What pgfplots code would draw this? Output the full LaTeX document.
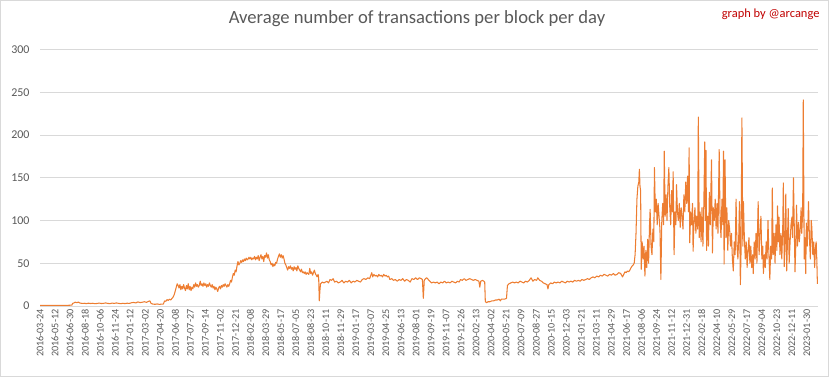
\documentclass[border=0pt]{standalone}
\usepackage{pgfplots}
\pgfplotsset{compat=1.18}
\usepackage{pgfplotstable}
\usepackage{fontspec}
\setmainfont{Carlito}
\definecolor{lineorange}{HTML}{ED7D31}
\definecolor{gridgray}{HTML}{D9D9D9}
\definecolor{tickgray}{HTML}{595959}
\definecolor{signred}{HTML}{C00000}

\pgfplotstableread{
x y
0 0.8
30 0.8
60 0.8
90 0.8
104 1.0
106 3.0
110 3.5
115 4.5
120 3.8
125 4.6
130 3.5
137 3.0
144 3.2
151 2.8
158 3.3
165 2.9
172 3.2
179 2.7
186 3.0
193 3.4
200 2.9
207 3.1
214 3.6
221 3.0
228 2.8
235 3.4
242 3.0
249 3.6
256 3.1
263 2.7
270 3.2
277 2.8
284 3.3
291 3.0
298 3.8
305 4.2
312 3.6
319 4.8
326 4.0
333 4.4
340 5.0
347 4.3
354 5.5
358 6.0
362 3.0
368 2.2
375 2.0
382 2.4
389 1.9
396 2.2
402 2.3
406 6.0
410 5.5
414 7.5
418 6.5
422 8.0
426 7.0
430 9.0
434 10.5
438 14
441 18
444 22
447 26
450 24
453 21
456 25
459 19
462 23
465 20
468 25
471 21
474 18
477 24
480 20
483 26
486 19
489 23
492 18
495 22
498 20
501 25
504 22
507 27
510 23
513 25
516 22
519 24
522 29
525 24
528 26
531 23
534 27
537 24
540 26
543 22
546 25
549 23
552 27
555 24
558 22
561 25
564 21
567 23
570 19
573 22
576 20
579 17
582 21
585 23
588 20
591 24
594 22
597 25
600 23
603 26
606 24
609 22
612 25
615 23
618 26
621 30
624 28
627 34
630 38
633 36
636 42
639 40
642 47
645 52
648 48
651 50
654 53
657 51
660 54
663 52
666 55
669 53
672 56
675 54
678 55
681 57
684 55
687 57
690 54
693 56
696 55
699 58
702 54
705 57
708 55
711 59
714 53
717 57
720 60
723 55
726 58
729 52
732 59
735 57
738 62
741 56
744 60
747 54
750 52
753 48
756 50
759 46
762 49
765 47
768 51
771 50
774 55
777 58
780 61
783 57
786 60
789 56
792 59
795 55
798 50
801 48
804 45
807 42
810 46
813 44
816 47
819 43
822 45
825 41
828 46
831 43
834 45
837 41
840 47
843 44
846 42
849 40
852 43
855 39
858 40
861 38
864 40
867 37
870 39
873 38
876 37
879 44
882 38
885 40
888 36
891 39
894 42
897 38
900 36
903 34
906 37
908 33
910 6
912 18
914 26
917 27
920 28
925 27
930 28
935 29
940 27
945 31
950 30
955 32
960 28
966 29
972 27
978 28
984 30
990 27
996 29
1002 28
1008 30
1014 27
1020 29
1026 28
1032 30
1038 29
1044 28
1050 31
1056 32
1062 31
1068 33
1074 32
1078 36
1081 39
1084 34
1088 37
1092 35
1096 36
1100 34
1104 37
1108 35
1112 36
1116 34
1120 37
1124 35
1128 36
1132 34
1136 35
1140 31
1146 32
1152 30
1158 31
1164 29
1170 31
1176 30
1182 32
1188 29
1194 31
1200 30
1206 28
1212 32
1218 31
1224 33
1230 31
1236 33
1242 32
1246 31
1249 9
1252 30
1256 32
1260 33
1265 31
1270 29
1276 27
1282 28
1288 27
1294 28
1300 26
1306 28
1312 27
1318 29
1324 27
1330 28
1336 27
1342 29
1348 28
1354 27
1360 29
1366 28
1370 31
1376 30
1382 32
1388 30
1394 31
1400 32
1406 31
1412 30
1418 31
1424 30
1430 29
1433 22
1436 29
1442 30
1446 29
1449 28
1451 5
1455 4
1460 5
1466 5
1472 6
1478 6
1484 7
1490 7
1496 8
1500 6
1503 8
1508 8
1514 8
1520 9
1523 24
1528 26
1534 27
1540 28
1546 27
1552 28
1558 27
1564 29
1570 28
1576 27
1582 29
1588 28
1594 30
1600 33
1606 29
1612 31
1618 30
1622 33
1628 30
1634 29
1640 27
1646 26
1652 25
1655 20
1658 25
1664 27
1670 26
1676 28
1682 27
1688 28
1694 27
1700 29
1706 28
1712 27
1718 29
1724 28
1730 29
1736 28
1742 30
1748 29
1754 30
1760 29
1766 31
1772 30
1778 31
1784 32
1790 31
1796 33
1802 34
1808 33
1814 35
1820 34
1826 36
1832 35
1838 37
1844 36
1850 35
1856 37
1862 36
1868 38
1874 36
1880 37
1886 39
1892 38
1898 34
1902 37
1906 40
1910 39
1914 41
1918 40
1922 42
1926 45
1930 47
1933 48
1936 50
1939 60
1942 85
1945 125
1948 140
1951 145
1953 160
1955 140
1957 135
1959 43
1962 75
1965 55
1968 70
1971 35
1974 65
1977 45
1980 78
1983 50
1986 95
1988 113
1991 70
1994 60
1997 90
2000 75
2002 162
2005 110
2008 125
2011 95
2014 120
2017 105
2020 90
2023 31
2026 100
2029 120
2032 95
2034 181
2037 105
2040 130
2043 100
2046 140
2049 162
2052 115
2055 95
2058 135
2061 110
2063 157
2066 60
2069 110
2072 95
2074 142
2077 110
2080 100
2083 120
2086 92
2089 115
2092 105
2095 90
2098 130
2101 110
2104 145
2107 120
2110 152
2113 110
2115 185
2117 74
2120 110
2123 95
2126 120
2128 64
2131 100
2134 115
2137 85
2140 105
2143 90
2145 221
2148 80
2151 110
2154 75
2157 115
2160 70
2163 120
2166 192
2168 100
2170 182
2172 65
2175 105
2178 70
2181 133
2184 95
2186 137
2188 171
2191 62
2194 115
2197 100
2200 125
2203 90
2206 120
2209 85
2213 183
2216 100
2219 80
2222 125
2225 95
2227 181
2229 49
2232 171
2235 80
2238 115
2241 65
2244 100
2247 90
2250 70
2253 85
2256 55
2259 41
2262 75
2265 60
2268 125
2271 70
2274 55
2277 85
2279 122
2282 25
2284 60
2287 220
2290 70
2292 122
2295 80
2298 55
2301 75
2304 45
2307 65
2310 80
2313 50
2316 70
2319 45
2322 60
2324 38
2327 75
2330 55
2333 85
2336 50
2338 90
2340 122
2343 60
2346 85
2349 105
2352 55
2355 70
2357 38
2360 60
2363 45
2366 75
2369 55
2372 100
2375 60
2378 31
2381 70
2384 55
2386 138
2389 60
2392 85
2395 50
2398 95
2401 65
2403 117
2406 75
2408 104
2411 60
2414 85
2417 55
2420 90
2422 144
2425 46
2428 80
2430 131
2433 41
2436 85
2438 114
2441 50
2444 75
2447 95
2450 104
2452 80
2455 150
2458 85
2460 40
2463 75
2465 118
2468 70
2471 98
2474 75
2477 90
2480 115
2482 85
2485 110
2487 241
2490 55
2492 80
2495 38
2497 97
2500 70
2502 95
2504 122
2507 80
2510 55
2513 100
2515 91
2518 60
2521 75
2524 45
2527 70
2529 75
2531 55
2533 26
}\txdata

\begin{document}
\begin{tikzpicture}[x=1bp,y=1bp]
\useasboundingbox (0,0) rectangle (833,379);
\draw[gridgray, line width=0.75bp] (0.5,3) rectangle (828,378.5);
\node[text=tickgray, font=\fontsize{18.7}{22}\selectfont] at (417,360) {Average number of transactions per block per day};
\node[text=signred, font=\fontsize{12.5}{15}\selectfont, anchor=east] at (823,365) {graph by @arcange};
\begin{axis}[
  scale only axis, width=778bp, height=256.5bp,
  at={(40bp,73bp)}, anchor=south west,
  xmin=0, xmax=2535, ymin=0, ymax=300,
  ytick={0,50,...,300},
  ymajorgrids, grid style={draw=gridgray, line width=0.75bp},
  axis line style={draw=none},
  major tick length=0pt,
  /pgf/number format/assume math mode=true,
  yticklabel style={font=\fontsize{12}{14}\selectfont, text=tickgray, xshift=-7bp},
  xtick={0,49,...,2499},
  xticklabels={2016-03-24,2016-05-12,2016-06-30,2016-08-18,2016-10-06,2016-11-24,2017-01-12,2017-03-02,2017-04-20,2017-06-08,2017-07-27,2017-09-14,2017-11-02,2017-12-21,2018-02-08,2018-03-29,2018-05-17,2018-07-05,2018-08-23,2018-10-11,2018-11-29,2019-01-17,2019-03-07,2019-04-25,2019-06-13,2019-08-01,2019-09-19,2019-11-07,2019-12-26,2020-02-13,2020-04-02,2020-05-21,2020-07-09,2020-08-27,2020-10-15,2020-12-03,2021-01-21,2021-03-11,2021-04-29,2021-06-17,2021-08-06,2021-09-24,2021-11-12,2021-12-31,2022-02-18,2022-04-10,2022-05-29,2022-07-17,2022-09-04,2022-10-23,2022-12-11,2023-01-30},
  xticklabel style={rotate=90, anchor=east, font=\fontsize{10.2}{12}\selectfont, text=tickgray},
]
\addplot[lineorange, line width=1.05bp, line join=round] table[x=x,y=y] {\txdata};
\end{axis}
\end{tikzpicture}
\end{document}
